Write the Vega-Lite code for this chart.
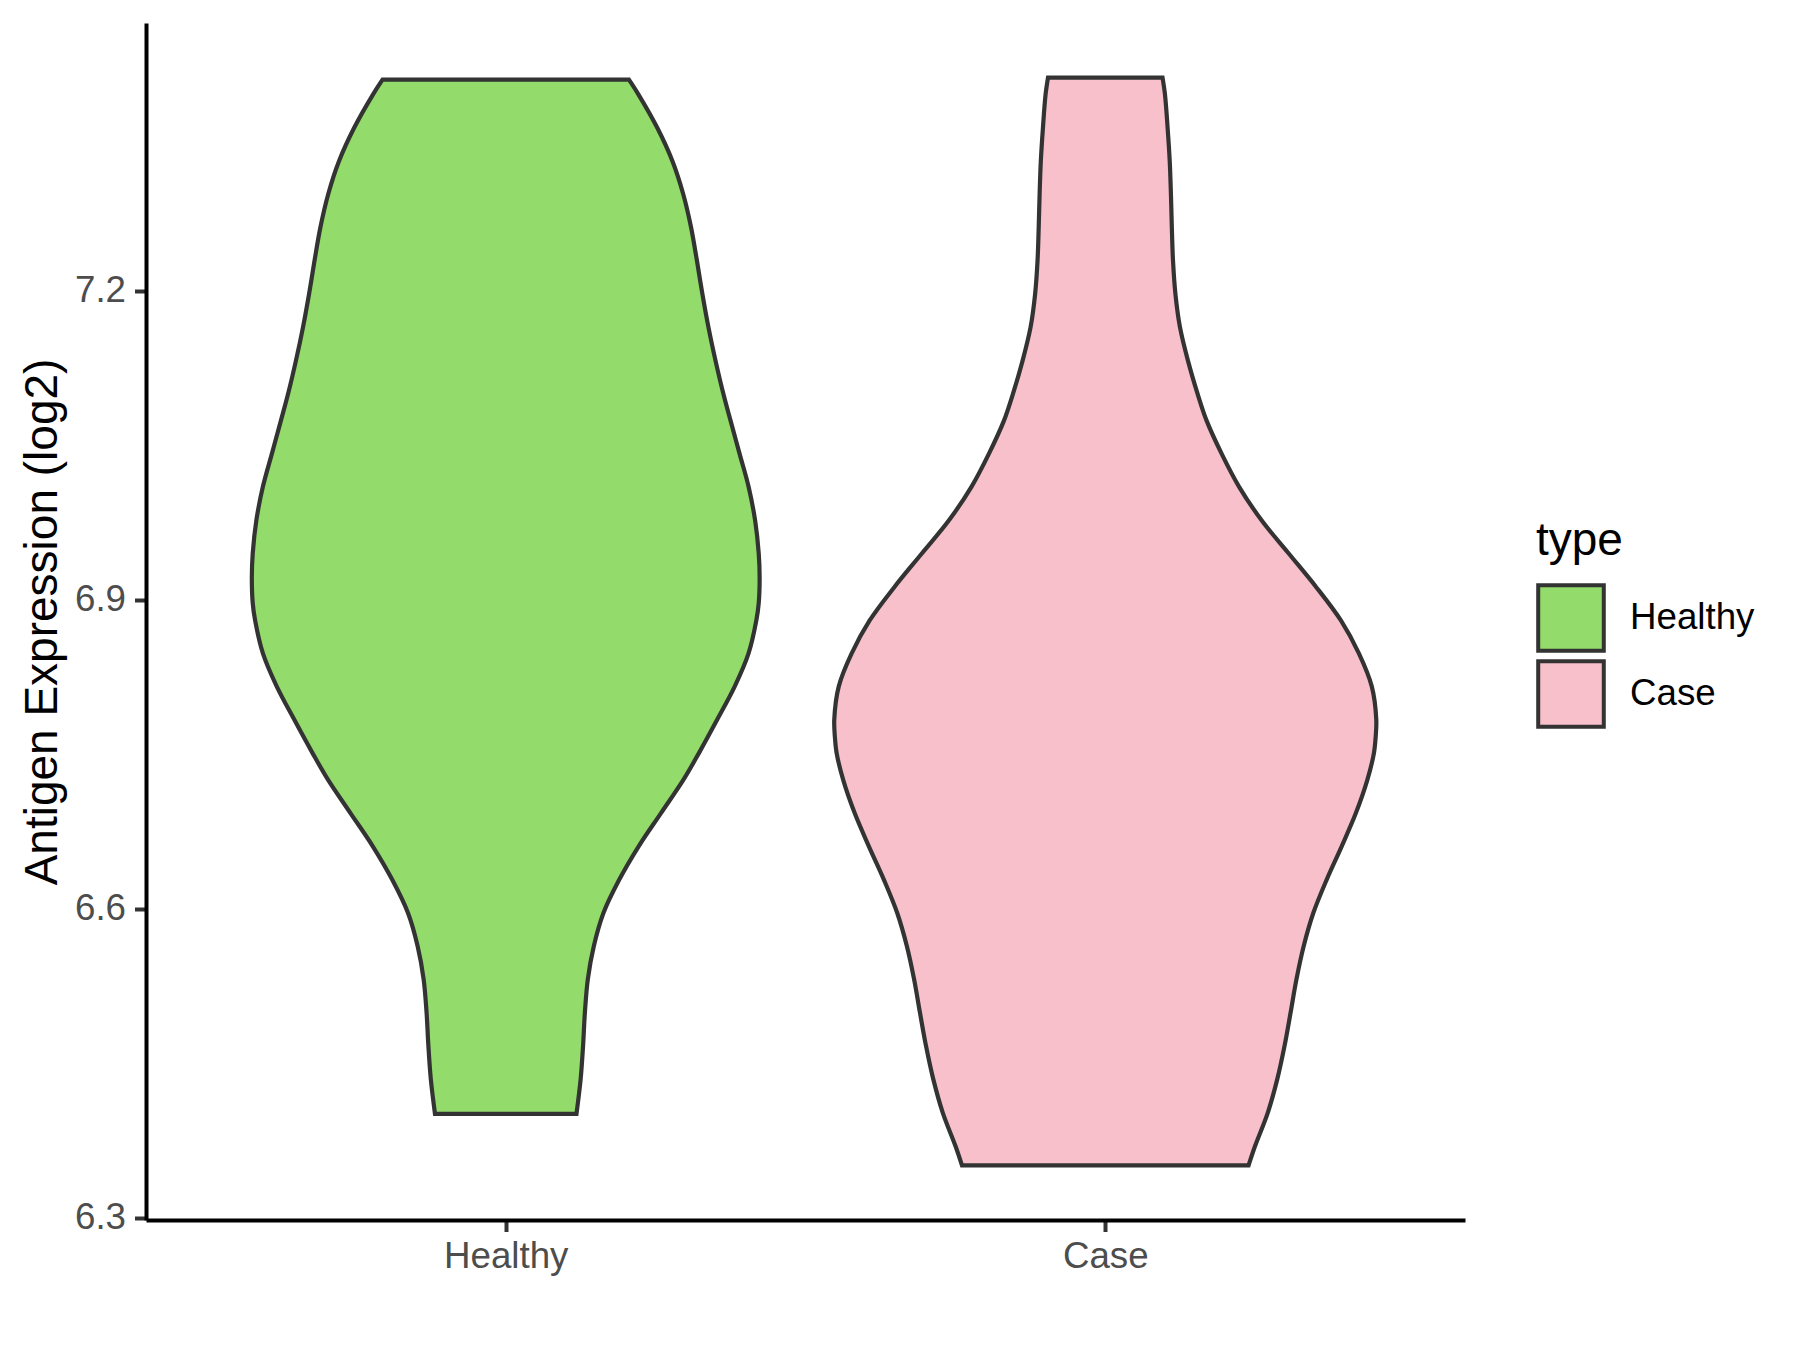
{
  "$schema": "https://vega.github.io/schema/vega-lite/v6.json",
  "width": 1319,
  "height": 1197,
  "autosize": {"type": "none"},
  "padding": {"left": 146, "top": 23, "right": 335, "bottom": 130},
  "background": "white",
  "data": {
    "values": [
      {"type": "Healthy", "v": 7.405, "lo": 0.7945, "hi": 1.2055},
      {"type": "Healthy", "v": 7.391, "lo": 0.779, "hi": 1.221},
      {"type": "Healthy", "v": 7.358, "lo": 0.747, "hi": 1.253},
      {"type": "Healthy", "v": 7.326, "lo": 0.722, "hi": 1.278},
      {"type": "Healthy", "v": 7.294, "lo": 0.704, "hi": 1.296},
      {"type": "Healthy", "v": 7.262, "lo": 0.691, "hi": 1.309},
      {"type": "Healthy", "v": 7.229, "lo": 0.681, "hi": 1.319},
      {"type": "Healthy", "v": 7.197, "lo": 0.672, "hi": 1.328},
      {"type": "Healthy", "v": 7.165, "lo": 0.662, "hi": 1.338},
      {"type": "Healthy", "v": 7.132, "lo": 0.65, "hi": 1.35},
      {"type": "Healthy", "v": 7.1, "lo": 0.637, "hi": 1.363},
      {"type": "Healthy", "v": 7.074, "lo": 0.625, "hi": 1.375},
      {"type": "Healthy", "v": 7.042, "lo": 0.61, "hi": 1.39},
      {"type": "Healthy", "v": 7.01, "lo": 0.595, "hi": 1.405},
      {"type": "Healthy", "v": 6.977, "lo": 0.584, "hi": 1.416},
      {"type": "Healthy", "v": 6.945, "lo": 0.578, "hi": 1.422},
      {"type": "Healthy", "v": 6.922, "lo": 0.5765, "hi": 1.4235},
      {"type": "Healthy", "v": 6.897, "lo": 0.578, "hi": 1.422},
      {"type": "Healthy", "v": 6.88, "lo": 0.582, "hi": 1.418},
      {"type": "Healthy", "v": 6.848, "lo": 0.595, "hi": 1.405},
      {"type": "Healthy", "v": 6.816, "lo": 0.618, "hi": 1.382},
      {"type": "Healthy", "v": 6.784, "lo": 0.647, "hi": 1.353},
      {"type": "Healthy", "v": 6.751, "lo": 0.678, "hi": 1.322},
      {"type": "Healthy", "v": 6.725, "lo": 0.704, "hi": 1.296},
      {"type": "Healthy", "v": 6.693, "lo": 0.741, "hi": 1.259},
      {"type": "Healthy", "v": 6.661, "lo": 0.778, "hi": 1.222},
      {"type": "Healthy", "v": 6.628, "lo": 0.811, "hi": 1.189},
      {"type": "Healthy", "v": 6.596, "lo": 0.837, "hi": 1.163},
      {"type": "Healthy", "v": 6.564, "lo": 0.853, "hi": 1.147},
      {"type": "Healthy", "v": 6.532, "lo": 0.863, "hi": 1.137},
      {"type": "Healthy", "v": 6.499, "lo": 0.868, "hi": 1.132},
      {"type": "Healthy", "v": 6.467, "lo": 0.871, "hi": 1.129},
      {"type": "Healthy", "v": 6.435, "lo": 0.875, "hi": 1.125},
      {"type": "Healthy", "v": 6.401, "lo": 0.882, "hi": 1.118},
      {"type": "Case", "v": 7.407, "lo": 1.9045, "hi": 2.0955},
      {"type": "Case", "v": 7.391, "lo": 1.9005, "hi": 2.0995},
      {"type": "Case", "v": 7.358, "lo": 1.896, "hi": 2.104},
      {"type": "Case", "v": 7.326, "lo": 1.8925, "hi": 2.1075},
      {"type": "Case", "v": 7.294, "lo": 1.8905, "hi": 2.1095},
      {"type": "Case", "v": 7.262, "lo": 1.889, "hi": 2.111},
      {"type": "Case", "v": 7.229, "lo": 1.887, "hi": 2.113},
      {"type": "Case", "v": 7.197, "lo": 1.883, "hi": 2.117},
      {"type": "Case", "v": 7.165, "lo": 1.8755, "hi": 2.1245},
      {"type": "Case", "v": 7.132, "lo": 1.862, "hi": 2.138},
      {"type": "Case", "v": 7.1, "lo": 1.846, "hi": 2.154},
      {"type": "Case", "v": 7.074, "lo": 1.831, "hi": 2.169},
      {"type": "Case", "v": 7.042, "lo": 1.806, "hi": 2.194},
      {"type": "Case", "v": 7.01, "lo": 1.777, "hi": 2.223},
      {"type": "Case", "v": 6.977, "lo": 1.739, "hi": 2.261},
      {"type": "Case", "v": 6.945, "lo": 1.694, "hi": 2.306},
      {"type": "Case", "v": 6.913, "lo": 1.649, "hi": 2.351},
      {"type": "Case", "v": 6.88, "lo": 1.607, "hi": 2.393},
      {"type": "Case", "v": 6.848, "lo": 1.577, "hi": 2.423},
      {"type": "Case", "v": 6.816, "lo": 1.5555, "hi": 2.4445},
      {"type": "Case", "v": 6.784, "lo": 1.548, "hi": 2.452},
      {"type": "Case", "v": 6.767, "lo": 1.549, "hi": 2.451},
      {"type": "Case", "v": 6.751, "lo": 1.552, "hi": 2.448},
      {"type": "Case", "v": 6.725, "lo": 1.563, "hi": 2.437},
      {"type": "Case", "v": 6.693, "lo": 1.582, "hi": 2.418},
      {"type": "Case", "v": 6.661, "lo": 1.6055, "hi": 2.3945},
      {"type": "Case", "v": 6.628, "lo": 1.631, "hi": 2.369},
      {"type": "Case", "v": 6.596, "lo": 1.653, "hi": 2.347},
      {"type": "Case", "v": 6.564, "lo": 1.669, "hi": 2.331},
      {"type": "Case", "v": 6.532, "lo": 1.681, "hi": 2.319},
      {"type": "Case", "v": 6.499, "lo": 1.691, "hi": 2.309},
      {"type": "Case", "v": 6.467, "lo": 1.701, "hi": 2.299},
      {"type": "Case", "v": 6.435, "lo": 1.713, "hi": 2.287},
      {"type": "Case", "v": 6.402, "lo": 1.729, "hi": 2.271},
      {"type": "Case", "v": 6.37, "lo": 1.75, "hi": 2.25},
      {"type": "Case", "v": 6.351, "lo": 1.761, "hi": 2.239}
    ]
  },
  "mark": {
    "type": "area",
    "orient": "horizontal",
    "interpolate": "catmull-rom",
    "stroke": "#333333",
    "strokeWidth": 4.2,
    "strokeJoin": "miter",
    "fillOpacity": 1
  },
  "encoding": {
    "y": {
      "field": "v",
      "type": "quantitative",
      "scale": {"domain": [6.298, 7.46], "nice": false, "zero": false},
      "axis": {
        "values": [6.3, 6.6, 6.9, 7.2],
        "format": ".1f",
        "title": "Antigen Expression (log2)",
        "titleFont": "Liberation Sans",
        "titleFontSize": 46,
        "titleFontWeight": "normal",
        "titleColor": "#000000",
        "titlePadding": 8,
        "labelFont": "Liberation Sans",
        "labelFontSize": 36.7,
        "labelColor": "#4D4D4D",
        "labelPadding": 9,
        "tickSize": 11.5,
        "tickWidth": 4,
        "tickColor": "#333333",
        "domainColor": "#000000",
        "domainWidth": 4,
        "grid": false
      }
    },
    "x": {
      "field": "lo",
      "type": "quantitative",
      "scale": {"domain": [0.4, 2.6], "nice": false, "zero": false},
      "axis": {
        "values": [1, 2],
        "labelExpr": "datum.value == 1 ? 'Healthy' : 'Case'",
        "title": null,
        "labelFont": "Liberation Sans",
        "labelFontSize": 36.7,
        "labelColor": "#4D4D4D",
        "labelPadding": 7,
        "labelFlush": false,
        "tickSize": 11.5,
        "tickWidth": 4,
        "tickColor": "#333333",
        "domainColor": "#000000",
        "domainWidth": 4,
        "grid": false
      }
    },
    "x2": {"field": "hi"},
    "fill": {
      "field": "type",
      "type": "nominal",
      "scale": {"domain": ["Healthy", "Case"], "range": ["#93DB6A", "#F7C0CB"]},
      "legend": {
        "title": "type",
        "orient": "none",
        "legendX": 1390,
        "legendY": 496,
        "symbolType": "square",
        "symbolSize": 4300,
        "symbolStrokeColor": "#333333",
        "symbolStrokeWidth": 4,
        "symbolOpacity": 1,
        "titleFont": "Liberation Sans",
        "titleFontSize": 46,
        "titleFontWeight": "normal",
        "titleColor": "#000000",
        "titlePadding": 18,
        "labelFont": "Liberation Sans",
        "labelFontSize": 36.7,
        "labelColor": "#000000",
        "labelOffset": 24,
        "rowPadding": -30
      }
    }
  },
  "config": {"view": {"stroke": null}}
}
